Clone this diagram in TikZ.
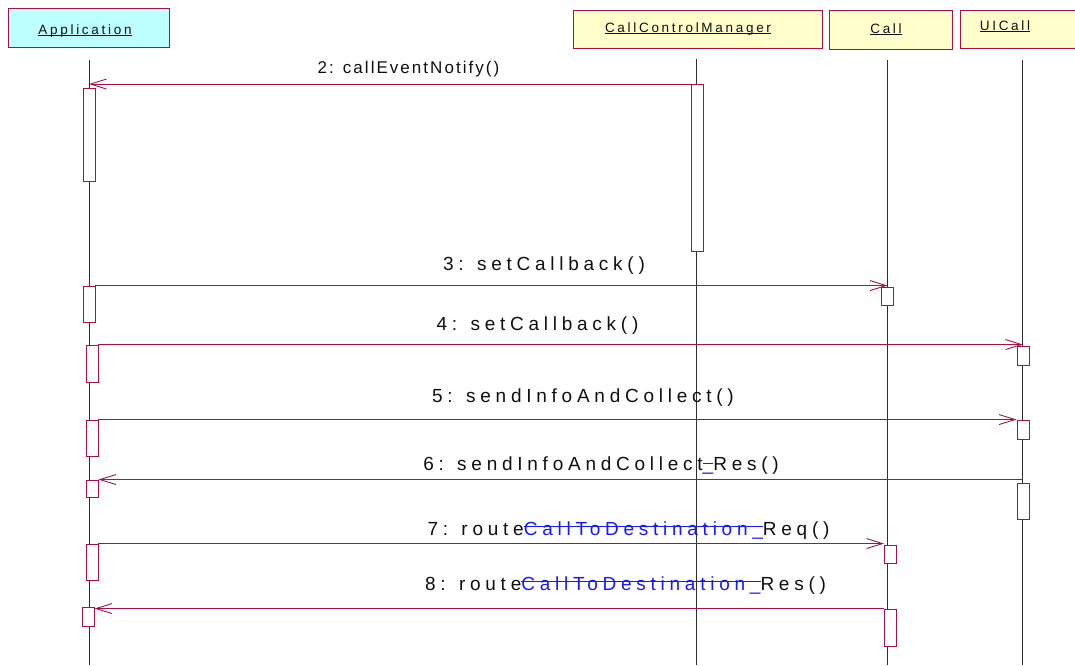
\documentclass[tikz,border=0pt]{standalone}
\usepackage{fontspec}
\setmainfont{Liberation Sans}
\newfontfamily\msgfont[LetterSpace=25]{Liberation Sans}
\newfontfamily\firstfont[LetterSpace=12]{Liberation Sans}
\newfontfamily\hdrfont[LetterSpace=20]{Liberation Sans}
\usetikzlibrary{arrows.meta}

\definecolor{umlred}{RGB}{165,18,72}
\definecolor{umlblue}{RGB}{25,25,255}
\definecolor{appcyan}{RGB}{190,255,255}
\definecolor{clsyellow}{RGB}{255,255,204}
\definecolor{lifegray}{RGB}{45,45,45}
\definecolor{txtgray}{RGB}{15,15,15}

% a rule drawn over a text, at a given height
\newcommand\barred[2]{\begingroup\setbox0=\hbox{#2}\rlap{\rule[#1]{\wd0}{0.9pt}}\box0\endgroup}
\newcommand\ul[1]{\barred{-1.8pt}{#1}}
\newcommand\strk[2][0.42em]{\textcolor{umlblue}{\barred{#1}{#2}}}

\begin{document}
\begin{tikzpicture}[x=1pt,y=-1pt,
  hdr/.style={draw=umlred, line width=0.9pt, inner sep=0pt},
  hdrtxt/.style={anchor=base, inner sep=0pt, text=txtgray, font=\hdrfont\fontsize{13.5pt}{15pt}\selectfont},
  act/.style={draw=umlred, fill=white, line width=0.9pt, minimum width=12pt, inner sep=0pt},
  msg/.style={draw=umlred, line width=0.9pt, -{Straight Barb[length=16pt,width=10pt]}},
  lifeline/.style={draw=lifegray, line width=0.9pt},
  lbl/.style={anchor=base, inner sep=0pt, text=txtgray, font=\msgfont\fontsize{19pt}{22pt}\selectfont}]
\useasboundingbox (0,0) rectangle (1075,665);
% Objects
\node[hdr, fill=appcyan, minimum width=161pt, minimum height=39pt] (app) at (88.5,27.5) {};
\node[hdr, fill=clsyellow, minimum width=249pt, minimum height=38pt] (ccm) at (697.5,29) {};
\node[hdr, fill=clsyellow, minimum width=123pt, minimum height=39pt] (call) at (890.5,29.5) {};
\node[hdr, fill=clsyellow, minimum width=125pt, minimum height=38pt, anchor=north west] (uicall) at (960,10) {};
\node[hdrtxt] (apptxt) at (85,34) {\ul{Application}};
\node[hdrtxt] (ccmtxt) at (688,32) {\ul{CallControlManager}};
\node[hdrtxt] (calltxt) at (886,33) {\ul{Call}};
\node[hdrtxt] (uicalltxt) at (1005,30) {\ul{UICall}};
% Lifelines
\coordinate (appT) at (89,60);   \coordinate (appB) at (89,665);
\coordinate (ccmT) at (696,59);  \coordinate (ccmB) at (696,665);
\coordinate (callT) at (887,60); \coordinate (callB) at (887,665);
\coordinate (uiT) at (1022,60);  \coordinate (uiB) at (1022,665);
\draw[lifeline] (appT) -- (appB);
\draw[lifeline] (ccmT) -- (ccmB);
\draw[lifeline] (callT) -- (callB);
\draw[lifeline] (uiT) -- (uiB);
% Activations
\node[act, minimum height=93pt] (a1) at (89,134.5) {};
\node[act, minimum height=167pt] (ccm1) at (697,168) {};
\node[act, minimum height=36pt] (a2) at (89,304) {};
\node[act, minimum height=18pt] (call1) at (887.5,296) {};
\node[act, minimum height=37pt] (a3) at (92,363.5) {};
\node[act, minimum height=19pt] (ui1) at (1023,355.5) {};
\node[act, minimum height=36pt] (a4) at (92,438) {};
\node[act, minimum height=19pt] (ui2) at (1023,429.5) {};
\node[act, minimum height=17pt] (a5) at (92,488.5) {};
\node[act, minimum height=36pt] (ui3) at (1023,501) {};
\node[act, minimum height=36pt] (a6) at (92,562) {};
\node[act, minimum height=18pt] (call2) at (890.5,554) {};
\node[act, minimum height=19pt] (a7) at (88,616.5) {};
\node[act, minimum height=37pt] (call3) at (890.5,627.5) {};
% Messages
\draw[msg] (ccm1.north west) -- (ccm1.north west -| a1.north);
\draw[msg] (a2.north east) -- (a2.north east -| call1.north);
\draw[msg] (a3.north east) -- (a3.north east -| ui1.north);
\draw[msg] (a4.north east) -- (ui2.north west);
\draw[msg] (ui3.north |- a5.north) -- (a5.north east);
\draw[msg] (a6.north east) -- (a6.north east -| call2.north west);
\draw[msg] (call3.north west) -- (call3.north west -| a7.north east);
% Labels
\node[lbl, font=\firstfont\fontsize{17pt}{20pt}\selectfont] (lbl2) at (408.5,73) {2: callEventNotify()};
\node[lbl] (lbl3) at (544,270) {3: setCallback()};
\node[lbl] (lbl4) at (537.5,330) {4: setCallback()};
\node[lbl] (lbl5) at (583,402) {5: sendInfoAndCollect()};
\node[lbl] (lbl6) at (601,470.5) {6: sendInfoAndCollect\strk[0.33em]{\_}Res()};
\node[lbl] (lbl7) at (628.5,535) {7: route\strk{CallToDestination\_}Req()};
\node[lbl] (lbl8) at (625.5,590) {8: route\strk{CallToDestination\_}Res()};
\end{tikzpicture}
\end{document}
